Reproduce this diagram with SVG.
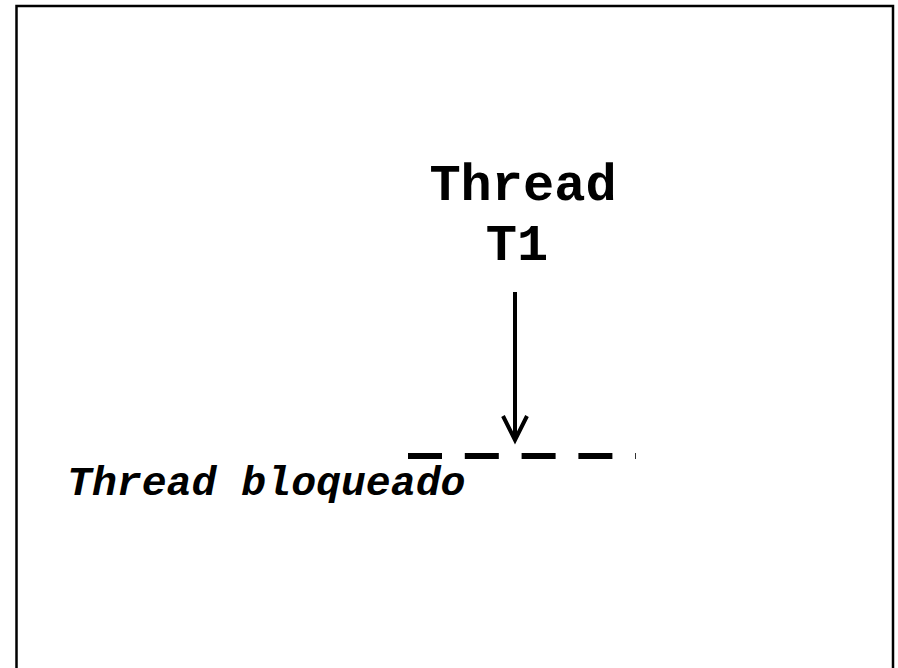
<svg xmlns="http://www.w3.org/2000/svg" width="898" height="668" viewBox="0 0 898 668">
<style>
.t{font-family:"Liberation Mono","Courier New",monospace;font-weight:bold;fill:#000}
</style>
<rect width="898" height="668" fill="#fff"/>
<g id="frame"><path d="M16.5 680 V6 H893 V680" fill="none" stroke="#000" stroke-width="2.5"/></g>
<g id="thread-t1">
<text class="t" x="523" y="200" font-size="52" text-anchor="middle">Thread</text>
<text class="t" x="517" y="260" font-size="52" text-anchor="middle">T1</text>
</g>
<g id="blocked">
<text class="t" x="67" y="495" font-size="41.5" font-style="italic">Thread bloqueado</text>
<line x1="408" y1="456" x2="636" y2="456" stroke="#000" stroke-width="6" stroke-dasharray="34 22.8"/>
</g>
<g id="connectors">
<line x1="515" y1="292" x2="515" y2="440" stroke="#000" stroke-width="4"/>
<polyline points="503,416 515,440 527,416" fill="none" stroke="#000" stroke-width="4"/>
</g>
</svg>
